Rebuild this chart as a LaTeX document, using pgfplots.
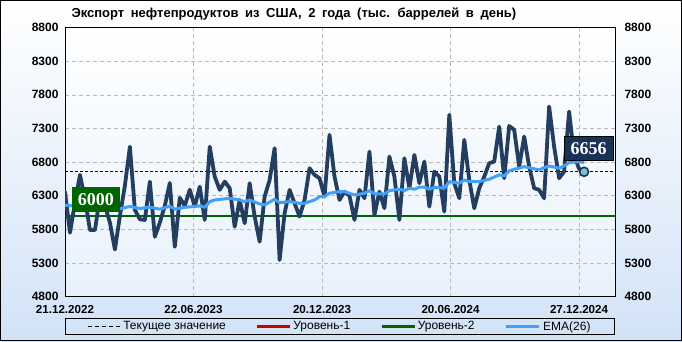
\documentclass[border=0pt]{standalone}
\usepackage{fontspec}
\setmainfont{Liberation Sans}
\newfontfamily\serifb{Liberation Serif}
\usepackage{pgfplots}
\pgfplotsset{compat=1.18}
\definecolor{bgblue}{RGB}{210,227,247}
\definecolor{plotblue}{RGB}{232,241,251}
\definecolor{navy}{RGB}{36,62,96}
\definecolor{navybox}{RGB}{26,50,84}
\definecolor{emablue}{RGB}{64,160,250}
\definecolor{lvlgreen}{RGB}{0,100,0}
\definecolor{lvlred}{RGB}{200,0,0}
\definecolor{gridgray}{RGB}{185,185,185}
\definecolor{mkfill}{RGB}{120,192,212}
\begin{document}
\begin{tikzpicture}[x=1pt,y=1pt]
\shade[top color=white, bottom color=bgblue] (0,0) rectangle (682,341);
\draw[black, line width=1pt] (0.5,0.5) rectangle (681.5,340.5);
\coordinate (A) at (65,44.4);
\node[anchor=west, font=\bfseries\fontsize{13}{15}\selectfont] at (68,327) {\spaceskip=6.6pt\relax Экспорт нефтепродуктов из США, 2 года (тыс. баррелей в день)};
\begin{axis}[
  at={(A)}, anchor=south west,
  scale only axis, width=550pt, height=269pt,
  xmin=0, xmax=110.2, ymin=4800, ymax=8800,
  clip mode=individual,
  axis background/.style={shade, top color=white, bottom color=plotblue},
  axis line style={black, line width=1pt},
  ytick={4800,5300,...,8800},
  xtick={0,25.75,51.5,77.25,103},
  xticklabels={21.12.2022,22.06.2023,20.12.2023,20.06.2024,27.12.2024},
  major tick length=0pt,
  grid=major,
  major grid style={gridgray, dash pattern=on 4pt off 3pt, line width=0.6pt},
  tick label style={font=\bfseries\fontsize{12}{14}\selectfont},
  /pgf/number format/1000 sep={},
  /pgf/number format/assume math mode=true,
  yticklabel style={xshift=-3pt},
  xticklabel style={yshift=-5.5pt, font=\bfseries\fontsize{11.6}{13}\selectfont},
  legend style={at={(0.5,0)}, anchor=north, yshift=-21.4pt, draw=black, line width=0.8pt, fill=none,
    font=\fontsize{12}{14}\selectfont, inner xsep=22pt, inner ysep=1pt,
    /tikz/every even column/.append style={column sep=28pt}},
  legend columns=4,
  legend image code/.code={\draw[#1] (0pt,0pt) -- (33pt,0pt);},
]
\addlegendimage{black, line width=0.8pt, dash pattern=on 4pt off 3pt}
\addlegendentry{Текущее значение}
\addlegendimage{lvlred, line width=2.5pt}
\addlegendentry{Уровень-1}
\addlegendimage{lvlgreen, line width=2.5pt}
\addlegendentry{Уровень-2}
\addlegendimage{emablue, line width=3.5pt}
\addlegendentry{EMA(26)}
\addplot[forget plot, black, line width=0.8pt, dash pattern=on 3pt off 2pt] coordinates {(0,6656) (110.2,6656)};
\addplot[forget plot, lvlgreen, line width=2pt] coordinates {(0,6000) (110.2,6000)};
\addplot[forget plot, navy, line width=3.8pt, line join=round, line cap=round] table {
x y
0 6360
1 5750
2 6200
3 6610
4 6250
5 5790
6 5790
7 6290
8 6150
9 5900
10 5500
11 6000
12 6450
13 7030
14 6090
15 5950
16 5940
17 6510
18 5690
19 5900
20 6150
21 6490
22 5540
23 6270
24 6150
25 6390
26 6140
27 6435
28 5940
29 7031
30 6584
31 6387
32 6510
33 6412
34 5840
35 6237
36 5890
37 6486
38 5990
39 5617
40 6287
41 6535
42 7007
43 5345
44 6040
45 6387
46 6188
47 5990
48 6237
49 6709
50 6610
51 6560
52 6287
53 7205
54 6584
55 6237
56 6361
57 6300
58 5940
59 6387
60 6263
61 6957
62 6014
63 6361
64 6114
65 6882
66 6584
67 5940
68 6858
69 6412
70 6907
71 6486
72 6808
73 6138
74 6659
75 6584
76 6063
77 7503
78 6486
79 6263
80 7131
81 6535
82 6114
83 6412
84 6584
85 6783
86 6808
87 7328
88 6560
89 7338
90 7280
91 6733
92 7180
93 6733
94 6412
95 6387
96 6263
97 7627
98 7031
99 6560
100 6659
101 7552
102 6900
103 6700
104 6656
};
\addplot[forget plot, emablue, line width=3pt, line join=round] table {
x y
0 6160
4 6130
7 6110
10 6090
13 6140
15 6110
17 6130
19 6100
21 6145
22 6100
24 6128
27 6148
28 6128
29 6212
30 6237
33 6262
35 6237
36 6212
37 6237
39 6178
40 6163
42 6248
43 6197
45 6212
47 6188
48 6188
50 6237
51 6287
52 6287
53 6337
55 6361
56 6361
58 6312
60 6337
61 6376
62 6327
64 6327
65 6376
67 6396
68 6376
69 6412
70 6396
71 6426
72 6430
73 6396
74 6426
76 6412
77 6510
79 6486
80 6535
81 6510
83 6510
85 6545
87 6610
88 6595
89 6670
90 6694
91 6709
92 6733
95 6684
96 6718
97 6743
99 6709
100 6743
101 6793
103 6808
104 6793
};
\addplot[forget plot, only marks, mark=*, mark size=4.5pt, mark options={fill=mkfill, draw=navybox, line width=1.6pt}] coordinates {(104,6656)};
\node[fill=lvlgreen, text=white, font=\serifb\bfseries\fontsize{18}{20}\selectfont, inner sep=0pt, minimum width=48pt, minimum height=25pt] at (axis cs:6.2,6245) {6000};
\node[fill=navybox, draw=black, line width=1pt, text=white, font=\serifb\bfseries\fontsize{18}{20}\selectfont, inner sep=0pt, minimum width=49pt, minimum height=24pt] at (axis cs:104.9,6996) {6656};
\end{axis}
\begin{axis}[
  at={(A)}, anchor=south west,
  scale only axis, width=550pt, height=269pt,
  xmin=0, xmax=110.2, ymin=4800, ymax=8800,
  axis line style={draw=none},
  xtick=\empty,
  ytick={4800,5300,...,8800},
  yticklabel pos=right,
  major tick length=0pt,
  tick label style={font=\bfseries\fontsize{12}{14}\selectfont},
  /pgf/number format/1000 sep={},
  /pgf/number format/assume math mode=true,
  yticklabel style={xshift=6pt},
]
\addplot[draw=none] coordinates {(0,4800)};
\end{axis}
\end{tikzpicture}
\end{document}
